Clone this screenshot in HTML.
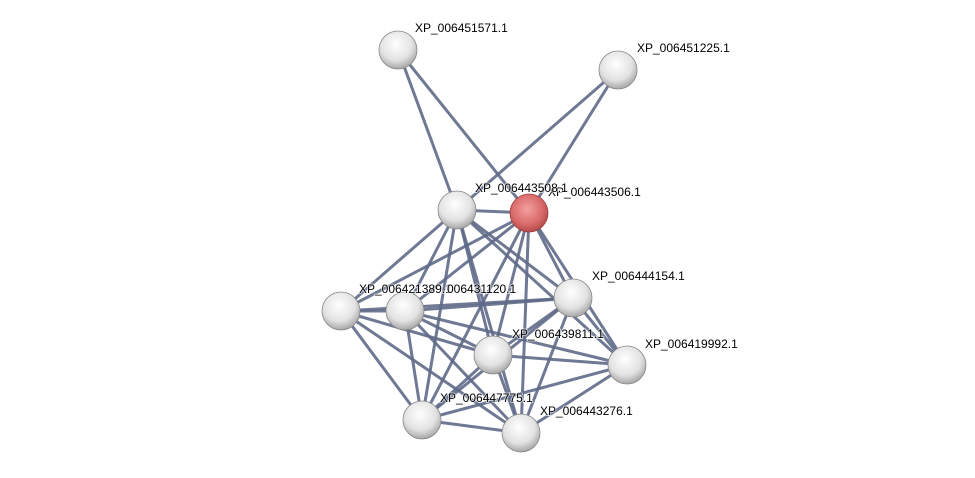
<!DOCTYPE html>
<html><head><meta charset="utf-8"><style>
html,body{margin:0;padding:0;background:#fff;}
svg{display:block;}
text{font-family:"Liberation Sans",Arial,sans-serif;font-size:12px;fill:#000;stroke:#fff;stroke-width:2px;stroke-opacity:0.6;paint-order:stroke;}
</style></head><body>
<svg width="975" height="478" viewBox="0 0 975 478" xmlns="http://www.w3.org/2000/svg">
<defs>
<radialGradient id="g" cx="0.45" cy="0.35" r="0.7">
<stop offset="0" stop-color="#ffffff"/><stop offset="0.6" stop-color="#e2e2e2"/><stop offset="1" stop-color="#9a9a9a"/>
</radialGradient>
<radialGradient id="r" cx="0.45" cy="0.4" r="0.7">
<stop offset="0" stop-color="#f4a0a0"/><stop offset="0.6" stop-color="#d86868"/><stop offset="1" stop-color="#a03a3a"/>
</radialGradient>
</defs>
<g stroke="#5f6a88" stroke-width="3" stroke-opacity="0.9">
<line x1="398" y1="50" x2="457" y2="210"/>
<line x1="398" y1="50" x2="529" y2="213"/>
<line x1="618" y1="70" x2="457" y2="210"/>
<line x1="618" y1="70" x2="529" y2="213"/>
<line x1="457" y1="210" x2="529" y2="213"/>
<line x1="457" y1="210" x2="341" y2="311"/>
<line x1="457" y1="210" x2="405" y2="311"/>
<line x1="457" y1="210" x2="573" y2="298"/>
<line x1="457" y1="210" x2="493" y2="355"/>
<line x1="457" y1="210" x2="422" y2="420"/>
<line x1="457" y1="210" x2="521" y2="433"/>
<line x1="457" y1="210" x2="627" y2="365"/>
<line x1="529" y1="213" x2="341" y2="311"/>
<line x1="529" y1="213" x2="405" y2="311"/>
<line x1="529" y1="213" x2="573" y2="298"/>
<line x1="529" y1="213" x2="493" y2="355"/>
<line x1="529" y1="213" x2="422" y2="420"/>
<line x1="529" y1="213" x2="521" y2="433"/>
<line x1="529" y1="213" x2="627" y2="365"/>
<line x1="341" y1="311" x2="405" y2="311"/>
<line x1="341" y1="311" x2="573" y2="298"/>
<line x1="341" y1="311" x2="422" y2="420"/>
<line x1="341" y1="311" x2="493" y2="355"/>
<line x1="341" y1="311" x2="521" y2="433"/>
<line x1="405" y1="311" x2="573" y2="298"/>
<line x1="405" y1="311" x2="493" y2="355"/>
<line x1="405" y1="311" x2="422" y2="420"/>
<line x1="405" y1="311" x2="521" y2="433"/>
<line x1="405" y1="311" x2="627" y2="365"/>
<line x1="573" y1="298" x2="493" y2="355"/>
<line x1="573" y1="298" x2="627" y2="365"/>
<line x1="573" y1="298" x2="422" y2="420"/>
<line x1="573" y1="298" x2="521" y2="433"/>
<line x1="493" y1="355" x2="627" y2="365"/>
<line x1="493" y1="355" x2="422" y2="420"/>
<line x1="493" y1="355" x2="521" y2="433"/>
<line x1="422" y1="420" x2="521" y2="433"/>
<line x1="627" y1="365" x2="422" y2="420"/>
<line x1="627" y1="365" x2="521" y2="433"/>
</g>
<g stroke="#888" stroke-width="0.8">
<circle cx="398" cy="50" r="19" fill="url(#g)"/>
<circle cx="618" cy="70" r="19" fill="url(#g)"/>
<circle cx="457" cy="210" r="19" fill="url(#g)"/>
<circle cx="573" cy="298" r="19" fill="url(#g)"/>
<circle cx="341" cy="311" r="19" fill="url(#g)"/>
<circle cx="405" cy="311" r="19" fill="url(#g)"/>
<circle cx="493" cy="355" r="19" fill="url(#g)"/>
<circle cx="627" cy="365" r="19" fill="url(#g)"/>
<circle cx="422" cy="420" r="19" fill="url(#g)"/>
<circle cx="521" cy="433" r="19" fill="url(#g)"/>
<circle cx="529" cy="213" r="19" fill="url(#r)" stroke="#a04040"/>
</g>
<text x="415" y="32">XP_006451571.1</text>
<text x="637" y="52">XP_006451225.1</text>
<text x="548" y="196">XP_006443506.1</text>
<text x="475" y="192">XP_006443508.1</text>
<text x="592" y="280">XP_006444154.1</text>
<text x="359" y="293">XP_006421389.1</text>
<text x="447" y="293">006431120.1</text>
<text x="512" y="338">XP_006439811.1</text>
<text x="645" y="348">XP_006419992.1</text>
<text x="440" y="402">XP_006447775.1</text>
<text x="540" y="415">XP_006443276.1</text>
</svg>
</body></html>
